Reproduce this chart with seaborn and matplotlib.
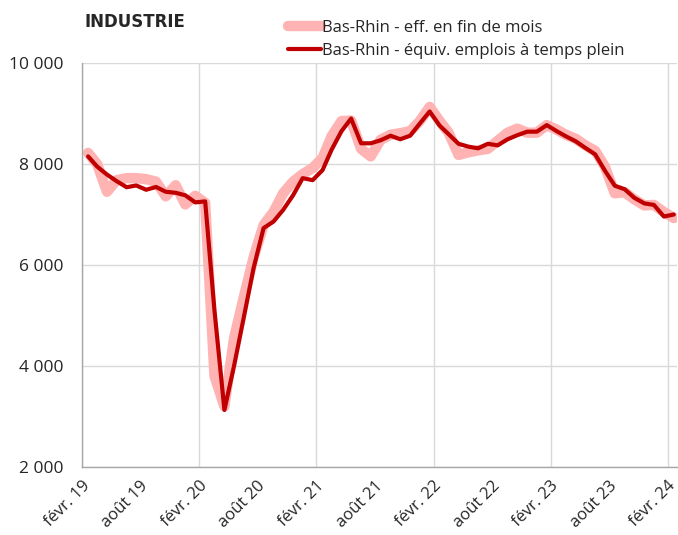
import numpy as np
import pandas as pd
import seaborn as sns
import matplotlib.pyplot as plt
import matplotlib.ticker as mticker

# monthly values, Feb 2019 -> Feb 2024
months = pd.date_range("2019-02-01", "2024-02-01", freq="MS") + pd.Timedelta(days=19)

eff_fin_mois = [
    8220, 8000, 7450, 7680, 7720, 7720, 7700, 7650, 7360, 7580, 7200, 7370,
    7230, 3800, 3200, 4550, 5380, 6150, 6790, 7050, 7420, 7650, 7800, 7920,
    8120, 8550, 8850, 8860, 8300, 8150, 8480, 8580, 8610, 8650, 8850, 9130,
    8850, 8620, 8180, 8230, 8270, 8300, 8460, 8620, 8700, 8620, 8620, 8770,
    8680, 8580, 8500, 8370, 8260, 7950, 7420, 7440, 7300, 7180, 7190, 7050,
    6930,
]
equiv_etp = [
    8150, 7950, 7790, 7660, 7540, 7575, 7490, 7545, 7450, 7430, 7380, 7240,
    7260, 5100, 3130, 4000, 4980, 5940, 6730, 6860, 7090, 7380, 7720, 7680,
    7880, 8280, 8650, 8900, 8410, 8410, 8470, 8560, 8490, 8560, 8800, 9040,
    8760, 8590, 8400, 8345, 8310, 8400, 8370, 8490, 8570, 8640, 8640, 8770,
    8650, 8550, 8450, 8320, 8190, 7870, 7570, 7500, 7330, 7220, 7190, 6960,
    7000,
]

label_eff = "Bas-Rhin - eff. en fin de mois"
label_etp = "Bas-Rhin - équiv. emplois à temps plein"

major_ticks = pd.to_datetime(["2019-02-01", "2020-02-01", "2021-02-01",
                              "2022-02-01", "2023-02-01", "2024-02-01"])
major_labels = ["févr. 19", "févr. 20", "févr. 21", "févr. 22", "févr. 23", "févr. 24"]
minor_ticks = pd.to_datetime(["2019-08-01", "2020-08-01", "2021-08-01",
                              "2022-08-01", "2023-08-01"])
minor_labels = ["août 19", "août 20", "août 21", "août 22", "août 23"]

df = pd.DataFrame({"mois": months, "eff": eff_fin_mois, "etp": equiv_etp})

sns.set_style("white")
plt.rcParams["font.family"] = ["Open Sans", "DejaVu Sans"]

fig = plt.figure(figsize=(6.78, 5.35), dpi=100)
ax = fig.add_axes([82 / 678, 68 / 535, 595 / 678, 404 / 535])

sns.lineplot(data=df, x="mois", y="eff", ax=ax, color="#FFB3B3",
             linewidth=7.5, label=label_eff, solid_capstyle="round")
sns.lineplot(data=df, x="mois", y="etp", ax=ax, color="#C00000",
             linewidth=3, label=label_etp, solid_capstyle="round")

ax.set_xlim(pd.Timestamp("2019-02-01"), pd.Timestamp("2024-03-01"))
ax.set_ylim(2000, 10000)
ax.yaxis.set_major_locator(mticker.MultipleLocator(2000))
ax.yaxis.set_major_formatter(
    mticker.FuncFormatter(lambda v, p: f"{int(v):,}".replace(",", " ")))

ax.set_xticks(major_ticks, major_labels)
ax.set_xticks(minor_ticks, minor_labels, minor=True)
for lab in ax.get_xticklabels(which="both"):
    lab.set_rotation(45)
    lab.set_ha("right")
    lab.set_rotation_mode("anchor")
    lab.set_fontsize(12)
    lab.set_color("#262626")

ax.tick_params(axis="x", which="both", length=5, color="#A6A6A6", pad=3)
ax.tick_params(axis="y", length=5, color="#A6A6A6", labelsize=12.5,
               labelcolor="#262626", pad=8)

ax.grid(True, axis="y", color="#D9D9D9", linewidth=1)
ax.grid(True, axis="x", which="major", color="#D9D9D9", linewidth=1)
ax.set_axisbelow(True)

for s in ["top", "right"]:
    ax.spines[s].set_visible(False)
for s in ["left", "bottom"]:
    ax.spines[s].set_color("#A6A6A6")
    ax.spines[s].set_linewidth(1)

ax.set_xlabel("")
ax.set_ylabel("")

ax.get_legend().remove()
handles, labels = ax.get_legend_handles_labels()
fig.legend(handles, labels, loc="upper left",
           bbox_to_anchor=(281 / 678, 1 - 13 / 535), frameon=False,
           fontsize=12, handlelength=2.0, handletextpad=0.05,
           labelspacing=0.45, borderaxespad=0)

fig.text(84 / 678, 1 - 22 / 535, "INDUSTRIE", fontsize=12,
         fontweight="bold", va="center", ha="left", family=["DejaVu Sans"])

fig.savefig("out.png", dpi=100)
